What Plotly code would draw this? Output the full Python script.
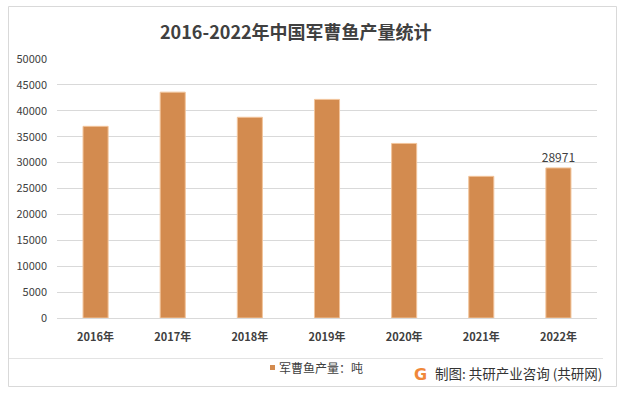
import plotly.graph_objects as go

categories = ["2016年", "2017年", "2018年", "2019年", "2020年", "2021年", "2022年"]
values = [37000, 43600, 38750, 42200, 33700, 27350, 28971]
series_name = "军曹鱼产量：吨"
title_text = "2016-2022年中国军曹鱼产量统计"
source_text = "制图: 共研产业咨询 (共研网)"
y_ticks = [0, 5000, 10000, 15000, 20000, 25000, 30000, 35000, 40000, 45000, 50000]

W, H = 623, 393
L, R, T, B = 57, 26, 59, 75
FONT = "Noto Sans CJK SC"

fig = go.Figure()
fig.add_trace(go.Bar(
    x=categories, y=values, name=series_name,
    marker=dict(color="#D38B4F", line=dict(color="#F2C49B", width=1)),
    text=[""] * (len(values) - 1) + [str(values[-1])],
    textposition="outside",
    constraintext="none",
    textfont=dict(family=FONT, size=12, color="#404040"),
    cliponaxis=False,
    showlegend=False,
))

fig.update_layout(
    width=W, height=H,
    margin=dict(l=L, r=R, t=T, b=B),
    paper_bgcolor="white", plot_bgcolor="white",
    bargap=0.675,
    font=dict(family=FONT, color="#404040"),
    xaxis=dict(showgrid=False, showline=False, ticks="", ticklabelstandoff=11,
               tickfont=dict(size=11, color="#404040", family=FONT, weight="bold")),
    yaxis=dict(range=[0, 50000], tickvals=y_ticks, ticktext=[str(v) for v in y_ticks],
               showgrid=True, gridcolor="#D9D9D9", gridwidth=1,
               zeroline=True, zerolinecolor="#D9D9D9", zerolinewidth=1,
               showline=False, ticks="", ticklen=0, ticklabelstandoff=9,
               tickfont=dict(size=11, color="#404040", family=FONT)),
    showlegend=False,
)

PW = W - L - R
PH = H - T - B

def px(x):
    return (x - L) / PW
def py(y):
    return (H - B - y) / PH

shapes = [
    dict(type="rect", xref="paper", yref="paper", x0=px(8.5), x1=px(616.5), y0=py(386.5), y1=py(6.5),
         line=dict(color="#D9D9D9", width=1), fillcolor="rgba(0,0,0,0)", layer="below"),
    dict(type="line", xref="paper", yref="paper", x0=px(9), x1=px(603), y0=py(358.5), y1=py(358.5),
         line=dict(color="#E3E3E3", width=1)),
    dict(type="rect", xref="paper", yref="paper", x0=px(270), x1=px(275), y0=py(370), y1=py(365),
         fillcolor="#D38B4F", line=dict(width=0)),
]

annotations = [
    dict(text="<b>" + title_text + "</b>", xref="paper", yref="paper", x=px(296), y=py(31),
         xanchor="center", yanchor="middle", showarrow=False,
         font=dict(family=FONT, size=18, color="#404040")),
    dict(text=series_name, xref="paper", yref="paper", x=px(277), y=py(367),
         xanchor="left", yanchor="middle", showarrow=False,
         font=dict(family=FONT, size=12, color="#404040")),
    dict(text="<b>G</b>", xref="paper", yref="paper", x=px(420), y=py(374),
         xanchor="center", yanchor="middle", showarrow=False,
         font=dict(family="DejaVu Sans", size=16, color="#F0883A")),
    dict(text=source_text, xref="paper", yref="paper", x=px(604), y=py(373),
         xanchor="right", yanchor="middle", showarrow=False,
         font=dict(family=FONT, size=13.5, color="#333333")),
]

fig.update_layout(shapes=shapes, annotations=annotations)
fig.write_html("out.html", config={"displayModeBar": False},
               post_script="document.body.style.margin='0';")
